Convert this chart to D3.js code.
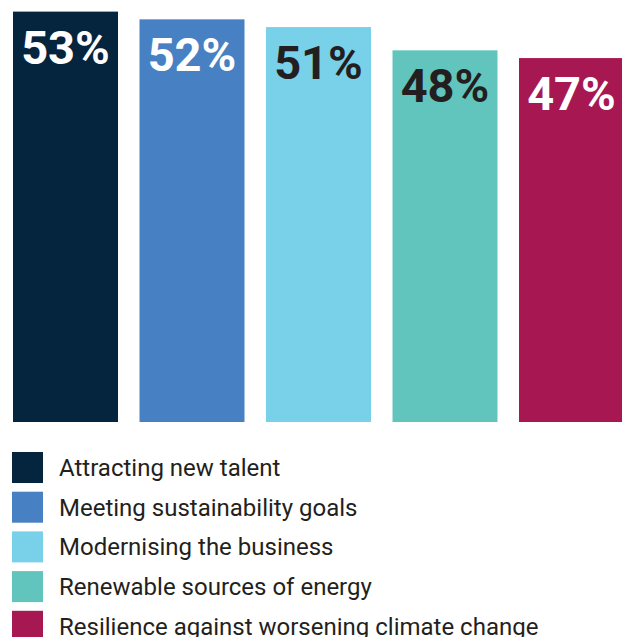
<!DOCTYPE html>
<html>
<head>
<meta charset="utf-8">
<script src="https://cdn.jsdelivr.net/npm/d3@7"></script>
<style>
  html, body { margin: 0; padding: 0; background: #ffffff; }
  svg { display: block; }
</style>
</head>
<body>
<svg id="chart" width="622" height="637"></svg>
<script>
// Share of respondents citing each driver
const categories = [
  "Attracting new talent",
  "Meeting sustainability goals",
  "Modernising the business",
  "Renewable sources of energy",
  "Resilience against worsening climate change"
];
const values = [53, 52, 51, 48, 47];
const valueLabels = ["53%", "52%", "51%", "48%", "47%"];
const colors = ["#05243d", "#4781c3", "#79d0e9", "#62c5bd", "#a71853"];
const labelColors = ["#ffffff", "#ffffff", "#231f20", "#231f20", "#ffffff"];

const svg = d3.select("#chart");

const x = d3.scaleBand()
  .domain(categories)
  .range([13, 624])
  .paddingInner(0.17)
  .paddingOuter(0);

const y = d3.scaleLinear()
  .domain([0, 54.5])
  .range([422, 0]);

const bars = svg.append("g").attr("class", "bars");

bars.selectAll("rect")
  .data(categories)
  .join("rect")
  .attr("x", d => x(d))
  .attr("y", (d, i) => y(values[i]))
  .attr("width", x.bandwidth())
  .attr("height", (d, i) => y(0) - y(values[i]))
  .attr("fill", (d, i) => colors[i]);

bars.selectAll("text")
  .data(categories)
  .join("text")
  .attr("x", d => x(d) + x.bandwidth() / 2)
  .attr("y", (d, i) => y(values[i]) + 52)
  .attr("text-anchor", "middle")
  .attr("font-family", "Roboto, sans-serif")
  .attr("font-weight", 700)
  .attr("font-size", 47)
  .attr("fill", (d, i) => labelColors[i])
  .text((d, i) => valueLabels[i]);

// Legend
const legend = svg.append("g").attr("class", "legend");
const rowY = i => 452 + i * 39.7;

const rows = legend.selectAll("g")
  .data(categories)
  .join("g")
  .attr("transform", (d, i) => `translate(12,${rowY(i)})`);

rows.append("rect")
  .attr("width", 31)
  .attr("height", 31)
  .attr("fill", (d, i) => colors[i]);

rows.append("text")
  .attr("x", 47)
  .attr("y", 24)
  .attr("font-family", "Roboto, sans-serif")
  .attr("font-size", 24)
  .attr("fill", "#231f20")
  .text(d => d);
</script>
</body>
</html>
